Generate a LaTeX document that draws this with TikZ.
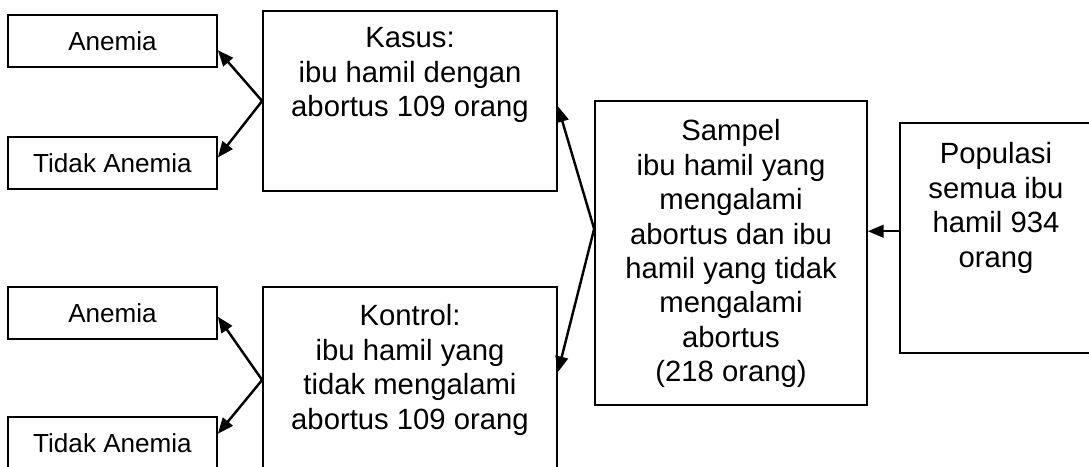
\documentclass[tikz,border=0pt]{standalone}
\usepackage{fontspec}
\setmainfont{Liberation Sans}
\usepackage{tikz}
\usetikzlibrary{arrows.meta,fit}
\tikzset{
    plain-box/.style = {draw=black, line width=0.7pt, rectangle, inner sep=0pt},
    small-box/.style = {plain-box, minimum width={209*0.41pt}, minimum height={52*0.41pt}, font=\fontsize{10.7}{12.8}\selectfont},
    box-text/.style = {align=center, inner sep=0pt, font=\fontsize{12}{14.1}\selectfont},
    link-arrow/.style = {line width=1pt, -{Triangle[length=6.5pt, width=5.2pt]}},
}

\begin{document}
\begin{tikzpicture}[x=0.41pt, y=-0.41pt]
\useasboundingbox (0,0) rectangle (1089,466);
\clip (0,0) rectangle (1089,466);
% populasi and sampel
\node[plain-box, fit={(900,123) (1092,353)}] (populasi) {};
\node[box-text, below=8.2pt] at (populasi.north) {Populasi\\semua ibu\\hamil 934\\orang};
\node[plain-box, fit={(595,101) (867,405)}] (sampel) {};
\node[box-text, below=7.8pt] at (sampel.north) {Sampel\\ibu hamil yang\\mengalami\\abortus dan ibu\\hamil yang tidak\\mengalami\\abortus\\(218 orang)};
% kasus and kontrol
\node[plain-box, fit={(263,11) (557,191)}] (kasus) {};
\node[box-text, below=7pt] at (kasus.north) {Kasus:\\ibu hamil dengan\\abortus 109 orang};
\node[plain-box, fit={(263,287) (557,473)}] (kontrol) {};
\node[box-text, below=7.4pt] at (kontrol.north) {Kontrol:\\ibu hamil yang\\tidak mengalami\\abortus 109 orang};
% anemia boxes
\node[small-box] (anemia-kasus) at (112.5,41) {Anemia};
\node[small-box] (tidak-kasus) at (112.5,163) {Tidak Anemia};
\node[small-box] (anemia-kontrol) at (112.5,313) {Anemia};
\node[small-box] (tidak-kontrol) at (112.5,443) {Tidak Anemia};

\draw[link-arrow] (populasi.176) -- (populasi.176 -| sampel.east);
\draw[link-arrow] (sampel.170) -- (kasus.-2);
\draw[link-arrow] (sampel.170) -- (kontrol.3);
\draw[link-arrow] (kasus.west) -- (anemia-kasus.-5);
\draw[link-arrow] (kasus.west) -- (tidak-kasus.3);
\draw[link-arrow] (kontrol.west) -- (anemia-kontrol.-2);
\draw[link-arrow] (kontrol.west) -- (tidak-kontrol.5);
\end{tikzpicture}
\end{document}
